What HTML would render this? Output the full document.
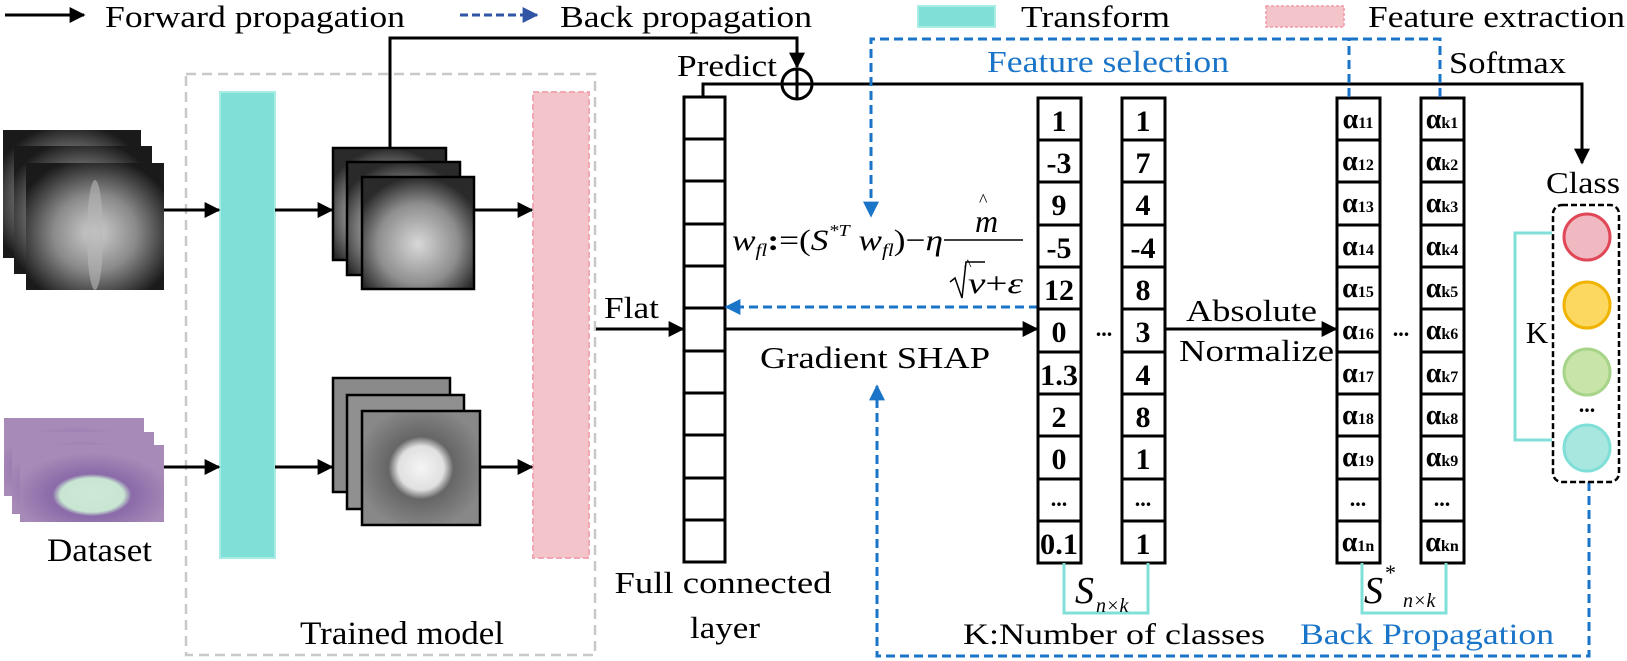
<!DOCTYPE html>
<html><head><meta charset="utf-8"><style>
html,body{margin:0;padding:0;background:#fff;}
svg{display:block;}
svg text{font-family:"Liberation Serif","Times New Roman",serif;}
</style></head><body>
<svg width="1627" height="661" viewBox="0 0 1627 661" xmlns="http://www.w3.org/2000/svg" font-family="Liberation Serif, serif">
<defs>
<marker id="ak" viewBox="0 0 10 10" markerWidth="16" markerHeight="18" refX="9" refY="5" orient="auto" markerUnits="userSpaceOnUse"><path d="M0,0 L10,5 L0,10 Z" fill="#000"/></marker>
<marker id="au" viewBox="0 0 10 10" markerWidth="16" markerHeight="18" refX="9" refY="5" orient="auto" markerUnits="userSpaceOnUse"><path d="M0,0 L10,5 L0,10 Z" fill="#1a75c9"/></marker>
<marker id="an" viewBox="0 0 10 10" markerWidth="16" markerHeight="18" refX="9" refY="5" orient="auto" markerUnits="userSpaceOnUse"><path d="M0,0 L10,5 L0,10 Z" fill="#2f55a4"/></marker>
<radialGradient id="xr" cx="50%" cy="55%" r="60%"><stop offset="0" stop-color="#cfcfcf"/><stop offset="0.5" stop-color="#8a8a8a"/><stop offset="1" stop-color="#1a1a1a"/></radialGradient>
<radialGradient id="fm" cx="50%" cy="60%" r="60%"><stop offset="0" stop-color="#d8d8d8"/><stop offset="0.6" stop-color="#8e8e8e"/><stop offset="1" stop-color="#2a2a2a"/></radialGradient>
<radialGradient id="fm2" cx="50%" cy="50%" r="55%"><stop offset="0" stop-color="#f5f5f5"/><stop offset="0.35" stop-color="#e0e0e0"/><stop offset="0.5" stop-color="#666"/><stop offset="1" stop-color="#888"/></radialGradient>
<radialGradient id="hs" cx="50%" cy="65%" r="55%"><stop offset="0" stop-color="#cfe8d8"/><stop offset="0.4" stop-color="#c8e6d2"/><stop offset="0.5" stop-color="#8a6aa8"/><stop offset="1" stop-color="#a88ab8"/></radialGradient>
</defs>

<!-- Legend -->
<line x1="5" y1="15" x2="84" y2="15" stroke="#000" stroke-width="3" marker-end="url(#ak)"/>
<text x="105" y="27" font-size="31" textLength="300" lengthAdjust="spacingAndGlyphs">Forward propagation</text>
<line x1="460" y1="15" x2="537" y2="15" stroke="#2f55a4" stroke-width="3" stroke-dasharray="8,4" marker-end="url(#an)"/>
<text x="560" y="27" font-size="31" textLength="252" lengthAdjust="spacingAndGlyphs">Back propagation</text>
<rect x="918" y="6" width="77" height="21" fill="#80e0d8" stroke="#a8ece6" stroke-width="2"/>
<text x="1021" y="27" font-size="31" textLength="149" lengthAdjust="spacingAndGlyphs">Transform</text>
<rect x="1266" y="6" width="78" height="21" fill="#f4c4cb" stroke="#f09aa5" stroke-width="1.5" stroke-dasharray="3,2"/>
<text x="1368" y="27" font-size="31" textLength="257" lengthAdjust="spacingAndGlyphs">Feature extraction</text>

<!-- Trained model box -->
<rect x="186" y="74" width="409" height="581" fill="none" stroke="#c8c8c8" stroke-width="2.5" stroke-dasharray="10,6"/>
<rect x="220" y="92" width="55" height="466" fill="#80e0d8" stroke="#a8ece6" stroke-width="2"/>
<rect x="533" y="92" width="56" height="466" fill="#f4c4cb" stroke="#f0a8b2" stroke-width="2" stroke-dasharray="6,3"/>
<text x="300" y="644" font-size="33" textLength="204" lengthAdjust="spacingAndGlyphs">Trained model</text>

<!-- X-ray stack -->
<rect x="3" y="130" width="138" height="128" fill="url(#xr)"/>
<rect x="14" y="146" width="138" height="128" fill="url(#xr)"/>
<rect x="26" y="163" width="138" height="127" fill="url(#xr)"/>
<ellipse cx="95" cy="235" rx="8" ry="55" fill="#b8b8b8" opacity="0.6"/>
<!-- histology stack -->
<rect x="4" y="418" width="140" height="78" fill="url(#hs)"/>
<rect x="12" y="432" width="142" height="82" fill="url(#hs)"/>
<rect x="20" y="445" width="144" height="77" fill="url(#hs)"/>
<text x="47" y="561" font-size="33" textLength="105" lengthAdjust="spacingAndGlyphs">Dataset</text>

<!-- arrows row 1 -->
<line x1="164" y1="210" x2="219" y2="210" stroke="#000" stroke-width="3" marker-end="url(#ak)"/>
<line x1="275" y1="210" x2="332" y2="210" stroke="#000" stroke-width="3" marker-end="url(#ak)"/>
<line x1="474" y1="210" x2="532" y2="210" stroke="#000" stroke-width="3" marker-end="url(#ak)"/>
<!-- arrows row 2 -->
<line x1="164" y1="467" x2="219" y2="467" stroke="#000" stroke-width="3" marker-end="url(#ak)"/>
<line x1="275" y1="467" x2="332" y2="467" stroke="#000" stroke-width="3" marker-end="url(#ak)"/>
<line x1="480" y1="467" x2="532" y2="467" stroke="#000" stroke-width="3" marker-end="url(#ak)"/>

<!-- feature maps 1 -->
<rect x="333" y="148" width="113" height="112" fill="url(#fm)" stroke="#000" stroke-width="2.5"/>
<rect x="347" y="162" width="113" height="113" fill="url(#fm)" stroke="#000" stroke-width="2.5"/>
<rect x="362" y="177" width="112" height="112" fill="url(#fm)" stroke="#000" stroke-width="2.5"/>
<!-- feature maps 2 -->
<rect x="333" y="378" width="117" height="114" fill="#8a8a8a" stroke="#000" stroke-width="2.5"/>
<rect x="347" y="395" width="117" height="114" fill="#909090" stroke="#000" stroke-width="2.5"/>
<rect x="362" y="411" width="118" height="114" fill="url(#fm2)" stroke="#000" stroke-width="2.5"/>

<!-- predict line -->
<polyline points="390,148 390,38 797,38 797,67" fill="none" stroke="#000" stroke-width="3" marker-end="url(#ak)"/>
<circle cx="797" cy="84" r="15" fill="#fff" stroke="#000" stroke-width="3"/>
<line x1="782" y1="84" x2="812" y2="84" stroke="#000" stroke-width="3"/>
<line x1="797" y1="69" x2="797" y2="99" stroke="#000" stroke-width="3"/>
<text x="677" y="76" font-size="31" textLength="100" lengthAdjust="spacingAndGlyphs">Predict</text>
<polyline points="703,97 703,84 782,84" fill="none" stroke="#000" stroke-width="3"/>
<polyline points="812,84 1582,84 1582,163" fill="none" stroke="#000" stroke-width="3" marker-end="url(#ak)"/>
<text x="1449" y="73" font-size="31" textLength="117" lengthAdjust="spacingAndGlyphs">Softmax</text>

<!-- FC column -->
<rect x="684" y="97" width="41" height="465" fill="#fff" stroke="#000" stroke-width="3"/>
<path stroke="#000" stroke-width="3" d="M684 139H725M684 181H725M684 224H725M684 266H725M684 308H725M684 351H725M684 393H725M684 435H725M684 478H725M684 520H725"/>
<text x="723" y="593" font-size="31" text-anchor="middle" textLength="217" lengthAdjust="spacingAndGlyphs">Full connected</text>
<text x="725" y="638" font-size="31" text-anchor="middle" textLength="70" lengthAdjust="spacingAndGlyphs">layer</text>
<text x="604" y="318" font-size="31" textLength="55" lengthAdjust="spacingAndGlyphs">Flat</text>
<line x1="596" y1="329" x2="683" y2="329" stroke="#000" stroke-width="3" marker-end="url(#ak)"/>

<!-- Gradient SHAP -->
<line x1="725" y1="329" x2="1037" y2="329" stroke="#000" stroke-width="3" marker-end="url(#ak)"/>
<text x="760" y="368" font-size="31" textLength="230" lengthAdjust="spacingAndGlyphs">Gradient SHAP</text>
<line x1="1038" y1="307" x2="726" y2="307" stroke="#1a75c9" stroke-width="3" stroke-dasharray="9,5" marker-end="url(#au)"/>

<!-- Formula -->
<g font-style="italic" font-size="30">
<text x="732" y="250" textLength="211" lengthAdjust="spacingAndGlyphs">w<tspan font-size="18" dy="6">fl</tspan><tspan dy="-6" font-style="normal" font-weight="bold">:</tspan><tspan font-style="normal">=(</tspan>S<tspan font-size="17" dy="-14">*T</tspan><tspan dy="14"> w</tspan><tspan font-size="18" dy="6">fl</tspan><tspan dy="-6" font-style="normal">)−</tspan>η</text>
<text x="975" y="232" font-size="32">m</text>
<text x="968" y="293" textLength="55" lengthAdjust="spacingAndGlyphs">v<tspan font-style="normal">+</tspan>ε</text>
</g>
<text x="979" y="206" font-size="18">^</text>
<text x="964" y="270" font-size="16">^</text>
<line x1="944" y1="240" x2="1023" y2="240" stroke="#000" stroke-width="1.5"/>
<polyline points="950,282 955,278 962,298 966,262 985,262" fill="none" stroke="#000" stroke-width="1.5"/>

<!-- S columns -->
<g fill="#fff" stroke="#000" stroke-width="3">
<rect x="1038" y="98" width="43" height="465"/>
<rect x="1122" y="98" width="43" height="465"/>
<rect x="1337" y="98" width="43" height="465"/>
<rect x="1421" y="98" width="43" height="465"/>
</g>
<g stroke="#000" stroke-width="3">
<path d="M1038 140H1081M1038 182H1081M1038 225H1081M1038 267H1081M1038 309H1081M1038 352H1081M1038 394H1081M1038 436H1081M1038 479H1081M1038 521H1081"/>
<path d="M1122 140H1165M1122 182H1165M1122 225H1165M1122 267H1165M1122 309H1165M1122 352H1165M1122 394H1165M1122 436H1165M1122 479H1165M1122 521H1165"/>
<path d="M1337 140H1380M1337 182H1380M1337 225H1380M1337 267H1380M1337 309H1380M1337 352H1380M1337 394H1380M1337 436H1380M1337 479H1380M1337 521H1380"/>
<path d="M1421 140H1464M1421 182H1464M1421 225H1464M1421 267H1464M1421 309H1464M1421 352H1464M1421 394H1464M1421 436H1464M1421 479H1464M1421 521H1464"/>
</g>
<g font-size="30" font-weight="bold" text-anchor="middle">
<text x="1059" y="131">1</text><text x="1059" y="173">-3</text><text x="1059" y="215">9</text><text x="1059" y="258">-5</text><text x="1059" y="300">12</text><text x="1059" y="342">0</text><text x="1059" y="385" textLength="38" lengthAdjust="spacingAndGlyphs">1.3</text><text x="1059" y="427">2</text><text x="1059" y="469">0</text><text x="1059" y="506" font-size="22">...</text><text x="1059" y="554" textLength="38" lengthAdjust="spacingAndGlyphs">0.1</text>
<text x="1143" y="131">1</text><text x="1143" y="173">7</text><text x="1143" y="215">4</text><text x="1143" y="258">-4</text><text x="1143" y="300">8</text><text x="1143" y="342">3</text><text x="1143" y="385">4</text><text x="1143" y="427">8</text><text x="1143" y="469">1</text><text x="1143" y="506" font-size="22">...</text><text x="1143" y="554">1</text>
<text x="1104" y="336" font-size="22">...</text>
<text x="1401" y="336" font-size="22">...</text>
</g>
<g font-size="28" font-weight="bold" text-anchor="middle">
<text x="1358" y="128">α<tspan font-size="16">11</tspan></text><text x="1358" y="170">α<tspan font-size="16">12</tspan></text><text x="1358" y="212">α<tspan font-size="16">13</tspan></text><text x="1358" y="255">α<tspan font-size="16">14</tspan></text><text x="1358" y="297">α<tspan font-size="16">15</tspan></text><text x="1358" y="339">α<tspan font-size="16">16</tspan></text><text x="1358" y="382">α<tspan font-size="16">17</tspan></text><text x="1358" y="424">α<tspan font-size="16">18</tspan></text><text x="1358" y="466">α<tspan font-size="16">19</tspan></text><text x="1358" y="506" font-size="22">...</text><text x="1358" y="551">α<tspan font-size="16">1n</tspan></text>
<text x="1442" y="128">α<tspan font-size="16">k1</tspan></text><text x="1442" y="170">α<tspan font-size="16">k2</tspan></text><text x="1442" y="212">α<tspan font-size="16">k3</tspan></text><text x="1442" y="255">α<tspan font-size="16">k4</tspan></text><text x="1442" y="297">α<tspan font-size="16">k5</tspan></text><text x="1442" y="339">α<tspan font-size="16">k6</tspan></text><text x="1442" y="382">α<tspan font-size="16">k7</tspan></text><text x="1442" y="424">α<tspan font-size="16">k8</tspan></text><text x="1442" y="466">α<tspan font-size="16">k9</tspan></text><text x="1442" y="506" font-size="22">...</text><text x="1442" y="551">α<tspan font-size="16">kn</tspan></text>
</g>

<!-- Absolute / Normalize -->
<line x1="1165" y1="329" x2="1336" y2="329" stroke="#000" stroke-width="3" marker-end="url(#ak)"/>
<text x="1186" y="321" font-size="31" textLength="131" lengthAdjust="spacingAndGlyphs">Absolute</text>
<text x="1179" y="361" font-size="31" textLength="155" lengthAdjust="spacingAndGlyphs">Normalize</text>

<!-- brackets under S -->
<polyline points="1064,563 1064,613 1148,613 1148,563" fill="none" stroke="#80e0d8" stroke-width="3"/>
<text x="1075" y="603" font-size="38" font-style="italic">S</text><text x="1096" y="612" font-size="20" font-style="italic">n×k</text>
<polyline points="1362,563 1362,613 1446,613 1446,563" fill="none" stroke="#80e0d8" stroke-width="3"/>
<text x="1364" y="603" font-size="38" font-style="italic">S</text><text x="1385" y="580" font-size="22">*</text><text x="1403" y="607" font-size="20" font-style="italic">n×k</text>
<text x="963" y="644" font-size="30" textLength="302" lengthAdjust="spacingAndGlyphs">K:Number of classes</text>
<text x="1300" y="644" font-size="30" fill="#1a75c9" textLength="254" lengthAdjust="spacingAndGlyphs">Back Propagation</text>

<!-- Feature selection blue dashed -->
<polyline points="1349,97 1349,39 871,39 871,216" fill="none" stroke="#1a75c9" stroke-width="3" stroke-dasharray="9,5" marker-end="url(#au)"/>
<polyline points="1349,39 1440,39 1440,97" fill="none" stroke="#1a75c9" stroke-width="3" stroke-dasharray="9,5"/>
<text x="987" y="72" font-size="31" fill="#1a75c9" textLength="242" lengthAdjust="spacingAndGlyphs">Feature selection</text>

<!-- bottom back propagation -->
<polyline points="1589,482 1589,656 877,656 877,386" fill="none" stroke="#1a75c9" stroke-width="3" stroke-dasharray="9,5" marker-end="url(#au)"/>

<!-- Class -->
<text x="1583" y="193" font-size="31" text-anchor="middle" textLength="74" lengthAdjust="spacingAndGlyphs">Class</text>
<rect x="1553" y="205" width="66" height="277" rx="9" fill="none" stroke="#000" stroke-width="2.5" stroke-dasharray="6,3"/>
<polyline points="1552,233 1515,233 1515,440 1552,440" fill="none" stroke="#80e0d8" stroke-width="3"/>
<text x="1537" y="343" font-size="31" text-anchor="middle">K</text>
<circle cx="1587" cy="237" r="23" fill="#f0b8c0" stroke="#e04858" stroke-width="3"/>
<circle cx="1587" cy="305" r="23" fill="#fcd860" stroke="#f0b400" stroke-width="3"/>
<circle cx="1587" cy="372" r="23" fill="#c8e4a8" stroke="#a8d48a" stroke-width="3"/>
<text x="1587" y="412" font-size="22" font-weight="bold" text-anchor="middle">...</text>
<circle cx="1587" cy="448" r="23" fill="#a8e6e0" stroke="#80e0d8" stroke-width="3"/>
</svg>
</body></html>
